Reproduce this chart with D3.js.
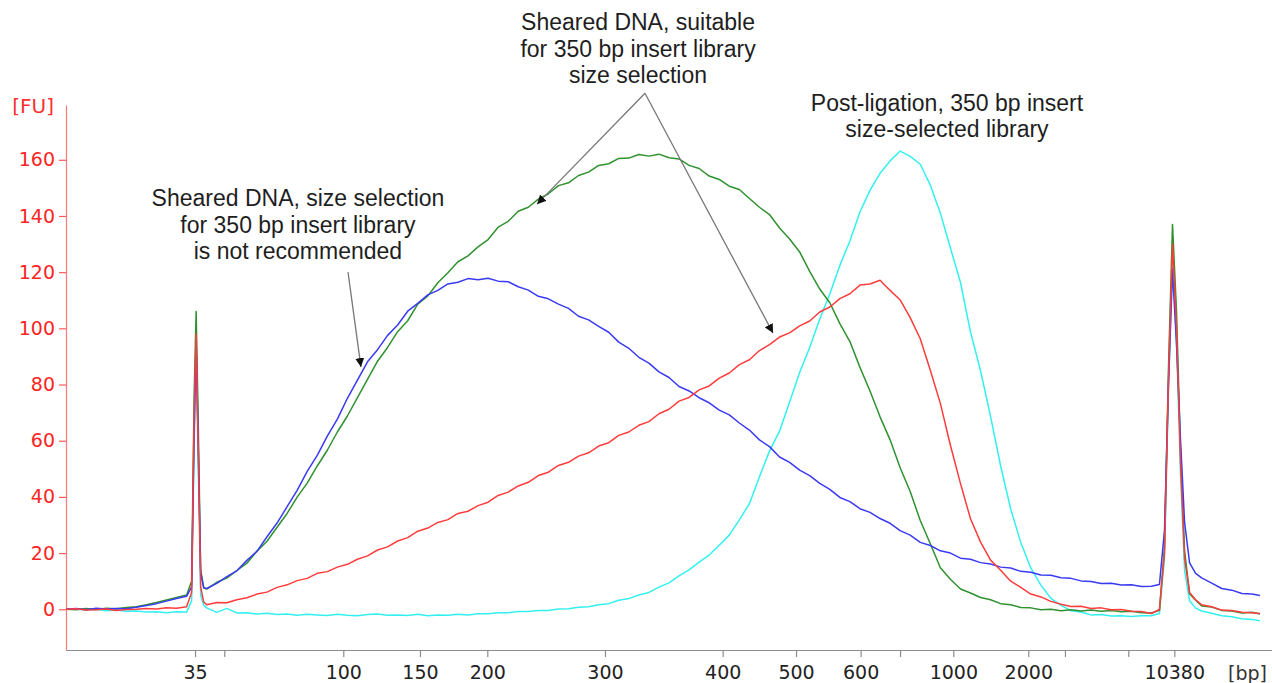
<!DOCTYPE html>
<html>
<head>
<meta charset="utf-8">
<script src="https://cdn.jsdelivr.net/npm/d3@7"></script>
<style>
  html, body { margin: 0; padding: 0; background: #ffffff; }
  svg { display: block; }
</style>
</head>
<body>
<svg id="chart" width="1272" height="683"></svg>
<script>
// ---------------- DATA ----------------
// Migration time (arbitrary units) of each sample point
const times = [
  0,1,2,3,4,5,6,7,8,9,10,11,12,
  12.5,12.75,12.95,13.15,13.4,13.7,
  14,15,16,17,18,19,20,21,22,23,
  24,25,26,27,28,29,30,31,32,33,
  34,35,36,37,38,39,40,41,42,43,
  44,45,46,47,48,49,50,51,52,53,
  54,55,56,57,58,59,60,61,62,63,
  64,65,66,67,68,69,70,71,72,73,
  74,75,76,77,78,79,80,81,82,83,
  84,85,86,87,88,89,90,91,92,93,
  94,95,96,97,98,99,100,101,102,103,
  104,105,106,107,108,
  108.8,109.3,109.7,110.1,110.5,110.9,111.3,111.8,112.4,
  113,114,115,116,117,118,118.8
];

// Fluorescence [FU] – sheared DNA, size selection not recommended (blue)
const blueFU = [
  0,0.3,-0.2,0.4,0.1,0.3,0.2,0.7,1.3,2.0,2.9,3.8,4.6,
  8,62,95,60,13,7.6,
  7.4,9.2,11.6,13.7,17.4,20.6,25.8,30.7,36.5,42.3,
  49.1,54.8,61.6,67.7,75.1,81.6,88.1,92.4,97.5,101.2,
  106.1,108.9,111.9,113.5,115.8,116.4,117.7,117.3,117.8,116.8,
  116.6,114.8,113.6,111.4,110.5,108.6,107.1,104.3,103.0,100.7,
  98.6,95.1,92.9,89.7,87.6,84.5,82.5,79.3,77.7,75.3,
  73.5,70.9,69.2,66.3,63.8,60.3,57.9,54.2,52.3,49.5,
  47.6,44.8,42.7,39.8,38.3,35.8,34.5,32.3,30.6,28.0,
  26.4,23.8,22.7,20.8,20.0,18.2,17.8,16.6,16.1,15.0,
  14.7,13.5,13.2,12.2,12.1,11.2,11.0,10.1,9.9,9.2,
  9.3,8.6,8.7,8.1,8.2,
  8.8,28,80,121,94,60,31,16.5,12.8,
  11.2,9.3,7.4,6.8,5.6,5.4,4.9
];

// Sheared DNA, suitable for 350 bp insert library size selection (green)
const greenFU = [
  0,-0.2,0.3,-0.1,0.4,0.2,0.6,0.9,1.6,2.4,3.3,4.2,5.1,
  10,76,106,68,14,7.8,
  7.2,9.6,11.1,13.8,16.4,20.7,24.2,29.2,34.1,39.9,
  44.9,51.0,56.6,63.1,68.8,75.3,81.8,88.3,93.2,98.8,
  102.7,108.6,111.5,116.2,119.8,123.7,125.8,129.0,131.6,136.0,
  138.1,141.7,143.1,146.0,147.9,150.8,151.8,154.4,155.6,158.0,
  158.6,160.5,160.6,161.9,161.3,162.0,160.7,160.3,158.0,156.9,
  154.2,153.0,150.6,149.4,146.2,143.1,140.5,135.7,131.8,127.2,
  120.3,114.0,109.1,101.7,95.3,86.1,77.7,68.5,60.3,50.4,
  41.9,31.6,23.3,14.8,10.7,7.2,5.8,4.2,3.4,2.0,
  1.6,0.6,0.5,-0.2,0.0,-0.5,-0.2,-0.6,-0.3,-0.7,
  -0.4,-0.9,-0.7,-1.2,-1.3,
  -0.4,22,86,137,106,56,21,5.5,3.2,
  1.2,0.8,-0.4,-0.6,-1.3,-1.1,-1.7
];

// Sheared DNA (red)
const redFU = [
  0,0.2,-0.3,-0.2,0.1,-0.4,-0.1,0.0,0.3,0.1,0.5,0.4,0.9,
  6,70,98,58,8,2.6,
  1.6,2.4,2.3,3.4,4.1,5.4,6.1,7.8,8.7,10.2,
  11.0,12.8,13.4,15.0,16.0,17.8,19.0,21.1,22.2,24.3,
  25.5,27.8,28.9,30.9,31.9,34.1,34.9,36.9,38.1,40.5,
  41.7,43.9,45.2,47.6,48.8,51.2,52.3,54.5,55.7,58.1,
  59.3,61.9,63.1,65.5,66.8,69.6,71.2,74.1,75.4,78.1,
  79.5,82.3,84.1,87.1,88.8,92.1,94.2,96.9,98.4,100.9,
  102.6,105.8,107.6,110.6,112.3,115.4,115.8,117.1,113.5,110.1,
  103.8,96.3,85.1,73.3,58.4,44.8,32.2,23.9,17.5,13.9,
  10.0,7.8,5.4,4.4,2.8,1.8,1.0,1.1,0.3,0.5,
  -0.2,-0.1,-0.7,-0.8,-1.5,
  -0.1,20,82,130,100,52,18,6,3.4,
  1.6,0.9,-0.3,-0.4,-1.1,-1.2,-1.5
];

// Post-ligation, 350 bp insert size-selected library (cyan)
const cyanFU = [
  0,0.1,-0.3,0.0,-0.5,-0.3,-0.7,-0.6,-1.0,-0.9,-1.2,-0.9,-1.0,
  3,58,90,52,5,1.4,
  0.5,-1.1,0.3,-1.3,-1.2,-1.7,-1.4,-1.9,-1.7,-2.1,
  -1.8,-2.0,-2.2,-1.8,-2.1,-2.3,-1.9,-1.7,-2.1,-2.0,
  -2.2,-1.8,-2.3,-2.0,-2.1,-1.8,-2.0,-1.6,-1.6,-1.2,
  -1.2,-0.8,-0.8,-0.4,-0.4,0.1,0.2,0.7,0.9,1.6,
  2.0,3.2,3.8,5.1,6.0,7.9,9.4,11.9,14.0,16.8,
  19.3,22.8,26.4,31.8,37.6,47.2,56.3,63.4,73.8,84.3,
  93.2,103.3,112.2,122.4,131.1,141.4,149.1,155.2,159.6,163.1,
  161.2,158.4,151.0,141.0,128.6,116.4,98.7,84.9,68.6,51.0,
  35.7,23.8,14.7,8.6,3.9,1.4,-0.5,-1.0,-2.0,-1.9,
  -2.4,-2.3,-2.6,-2.3,-2.3,
  -1.5,18,78,124,96,48,14,3,0.4,
  -0.6,-1.4,-2.3,-2.7,-3.4,-3.6,-4.1
];

// Ladder (x-axis) – sizes in bp and their migration times
const ladderSizes  = [35, 50, 100, 150, 200, 300, 400, 500, 600, 700, 1000, 2000, 3000, 7000, 10380];
const ladderTimes  = [12.84, 15.75, 27.59, 35.22, 41.92, 53.63, 65.34, 72.64, 79.07, 82.99, 88.29, 95.75, 99.40, 105.70, 110.28];
const labeledSizes = [35, 100, 150, 200, 300, 400, 500, 600, 1000, 2000, 10380];

const yTicks = [0, 20, 40, 60, 80, 100, 120, 140, 160];

// Annotations (anchored in data coordinates)
const annotationTexts = [
  ["Sheared DNA, size selection", "for 350 bp insert library", "is not recommended"],
  ["Sheared DNA, suitable", "for 350 bp insert library", "size selection"],
  ["Post-ligation, 350 bp insert", "size-selected library"]
];
const annotationAnchors = [ {t: 23.08, v: 143.5}, {t: 56.92, v: 206.2}, {t: 87.66, v: 177.2} ];
const arrowDefs = [
  {from: {t: 28.06, v: 120.0}, to: {t: 29.35, v: 86.2}},
  {from: {t: 57.61, v: 183.7}, to: {t: 46.87, v: 144.2}},
  {from: {t: 57.61, v: 183.7}, to: {t: 70.35, v: 98.3}}
];

// ---------------- CHART ----------------
const svg = d3.select("#chart");
const W = 1272, H = 683;
svg.append("rect").attr("width", W).attr("height", H).attr("fill", "#ffffff");

const x = d3.scaleLinear().domain([0, 120]).range([66, 1272]);
const y = d3.scaleLinear().domain([-14.5, 179.5]).range([650, 105]);

// Y axis
const gy = svg.append("g")
  .attr("transform", "translate(66,0)")
  .call(d3.axisLeft(y).tickValues(yTicks).tickSize(7).tickSizeOuter(0).tickPadding(4))
  .attr("font-family", "'DejaVu Sans', Verdana, sans-serif")
  .attr("font-size", 19);
gy.select(".domain").attr("stroke", "#ff7878").attr("stroke-width", 1.2);
gy.selectAll(".tick line").attr("stroke", "#ff5a5a").attr("stroke-width", 1.2);
gy.selectAll(".tick text").attr("fill", "#ff2424");

svg.append("text")
  .attr("x", 54).attr("y", 113)
  .attr("text-anchor", "end")
  .attr("font-family", "'DejaVu Sans', Verdana, sans-serif")
  .attr("font-size", 20)
  .attr("fill", "#ff3030")
  .text("[FU]");

// X axis
const gx = svg.append("g")
  .attr("transform", "translate(0,650)")
  .call(d3.axisBottom(x)
    .tickValues(ladderTimes)
    .tickFormat((d, i) => labeledSizes.includes(ladderSizes[i]) ? String(ladderSizes[i]) : "")
    .tickSize(7).tickSizeOuter(0).tickPadding(9))
  .attr("font-family", "'DejaVu Sans', Verdana, sans-serif")
  .attr("font-size", 19);
gx.select(".domain").attr("stroke", "#8c8c8c").attr("stroke-width", 1.2);
gx.selectAll(".tick line").attr("stroke", "#8c8c8c").attr("stroke-width", 1.2);
gx.selectAll(".tick text").attr("fill", "#222222");

svg.append("text")
  .attr("x", 1228).attr("y", 680)
  .attr("font-family", "'DejaVu Sans', Verdana, sans-serif")
  .attr("font-size", 19)
  .attr("fill", "#333333")
  .text("[bp]");

// Traces
const seriesList = [
  {name: "cyan",  values: cyanFU,  color: "#33f0f0"},
  {name: "green", values: greenFU, color: "#2f912f"},
  {name: "blue",  values: blueFU,  color: "#3a3af5"},
  {name: "red",   values: redFU,   color: "#ff3c3c"}
];
const line = d3.line().x(d => x(d.t)).y(d => y(d.v));
seriesList.forEach(s => {
  if (s.values.length !== times.length) console.error(s.name, s.values.length, times.length);
  const pts = times.map((t, i) => ({t, v: s.values[i]}));
  svg.append("path")
    .datum(pts)
    .attr("fill", "none")
    .attr("stroke", s.color)
    .attr("stroke-width", 1.5)
    .attr("stroke-linejoin", "round")
    .attr("d", line);
});

// Arrow marker
svg.append("defs").append("marker")
  .attr("id", "arrowhead")
  .attr("viewBox", "0 0 10 10")
  .attr("refX", 10).attr("refY", 5)
  .attr("markerWidth", 9).attr("markerHeight", 9)
  .attr("markerUnits", "userSpaceOnUse")
  .attr("orient", "auto")
  .append("path").attr("d", "M0,0 L10,5 L0,10 Z").attr("fill", "#111");

arrowDefs.forEach(a => {
  svg.append("line")
    .attr("x1", x(a.from.t)).attr("y1", y(a.from.v))
    .attr("x2", x(a.to.t)).attr("y2", y(a.to.v))
    .attr("stroke", "#777777").attr("stroke-width", 1.3)
    .attr("marker-end", "url(#arrowhead)");
});

// Annotation texts
annotationTexts.forEach((lines, k) => {
  const a = annotationAnchors[k];
  const txt = svg.append("text")
    .attr("x", x(a.t)).attr("y", y(a.v))
    .attr("text-anchor", "middle")
    .attr("font-family", "'Liberation Sans', Arial, sans-serif")
    .attr("font-size", 23)
    .attr("fill", "#1e1e1e");
  lines.forEach((l, j) => {
    txt.append("tspan").attr("x", x(a.t)).attr("dy", j === 0 ? 0 : (k === 2 ? 25.5 : 26.6)).text(l);
  });
});
</script>
</body>
</html>
